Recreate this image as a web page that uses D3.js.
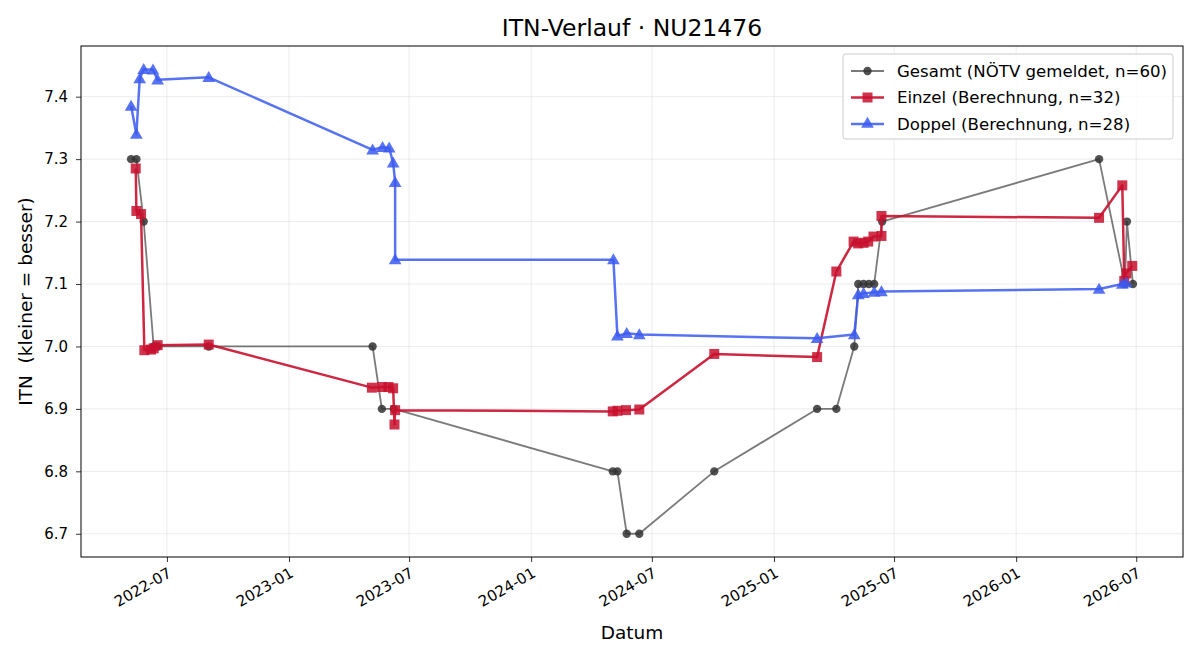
<!DOCTYPE html>
<html><head><meta charset="utf-8">
<script src="https://cdn.jsdelivr.net/npm/d3@7"></script>
<style>body{margin:0;background:#fff} text{font-family:"DejaVu Sans",sans-serif;fill:#000}</style>
</head><body><svg id="c" width="1200" height="660"></svg>
<script>
const gesamtDates = ["2022-05-08","2022-05-16","2022-05-27","2022-06-11","2022-06-17","2022-09-02","2023-05-07","2023-05-21","2023-06-08","2024-05-03","2024-05-10","2024-05-24","2024-06-12","2024-10-03","2025-03-07","2025-04-05","2025-05-02","2025-05-08","2025-05-16","2025-05-24","2025-06-01","2025-06-13","2026-05-06","2026-06-14","2026-06-17","2026-06-26"];
const gesamtValues = [7.3,7.3,7.2,7.0,7.0,7.0,7.0,6.9,6.9,6.8,6.8,6.7,6.7,6.8,6.9,6.9,7.0,7.1,7.1,7.1,7.1,7.2,7.3,7.1,7.2,7.1];

const einzelDates = ["2022-05-15","2022-05-16","2022-05-23","2022-05-28","2022-06-07","2022-06-11","2022-06-17","2022-09-02","2023-05-06","2023-05-21","2023-05-31","2023-06-07","2023-06-09","2023-06-10","2024-05-03","2024-05-10","2024-05-23","2024-06-12","2024-10-03","2025-03-07","2025-04-05","2025-05-01","2025-05-08","2025-05-16","2025-05-23","2025-05-31","2025-06-12","2025-06-12","2026-05-06","2026-06-10","2026-06-13","2026-06-16","2026-06-25"];
const einzelValues = [7.285,7.217,7.212,6.994,6.995,6.997,7.002,7.003,6.934,6.935,6.935,6.933,6.875,6.898,6.896,6.897,6.898,6.899,6.988,6.983,7.120,7.168,7.165,7.166,7.168,7.176,7.177,7.209,7.206,7.258,7.105,7.117,7.129];

const doppelDates = ["2022-05-08","2022-05-16","2022-05-21","2022-05-27","2022-06-10","2022-06-17","2022-09-02","2023-05-07","2023-05-22","2023-06-01","2023-06-07","2023-06-10","2023-06-10","2024-05-04","2024-05-10","2024-05-24","2024-06-12","2025-03-07","2025-05-02","2025-05-08","2025-05-16","2025-06-01","2025-06-12","2026-05-06","2026-06-10","2026-06-16"];
const doppelValues = [7.385,7.340,7.429,7.444,7.443,7.427,7.431,7.315,7.319,7.318,7.294,7.263,7.139,7.139,7.017,7.021,7.019,7.013,7.019,7.083,7.085,7.087,7.088,7.092,7.100,7.102];

const xTickLabels = ["2022-07","2023-01","2023-07","2024-01","2024-07","2025-01","2025-07","2026-01","2026-07"];
const yTickLabels = ["6.7","6.8","6.9","7.0","7.1","7.2","7.3","7.4"];
const seriesNames = ["Gesamt (NÖTV gemeldet, n=60)","Einzel (Berechnung, n=32)","Doppel (Berechnung, n=28)"];

const parse = d3.timeParse("%Y-%m-%d");
const parseM = d3.timeParse("%Y-%m");
const mk = (ds, vs) => ds.map((d,i)=>({x:parse(d), y:vs[i]}));
const series = [
  {name:seriesNames[0], data:mk(gesamtDates,gesamtValues), color:"#333", lw:1.8, lop:0.65, mop:0.85, marker:"circle", ms:55},
  {name:seriesNames[1], data:mk(einzelDates,einzelValues), color:"#c8102e", lw:2.5, lop:0.9, mop:0.85, marker:"square", ms:100},
  {name:seriesNames[2], data:mk(doppelDates,doppelValues), color:"#3b5bf0", lw:2.5, lop:0.85, mop:0.85, marker:"triangle", ms:70}
];

const W=1200,H=660, L=81, R=1183, T=46, B=557;
const svg = d3.select("#c");

const all = series.flatMap(s=>s.data);
const [x0,x1] = d3.extent(all, d=>d.x);
const xpad = (x1-x0)*0.05;
const x = d3.scaleTime().domain([new Date(+x0-xpad), new Date(+x1+xpad)]).range([L,R]);
const [y0,y1] = d3.extent(all, d=>d.y);
const ypad = (y1-y0)*0.05;
const y = d3.scaleLinear().domain([y0-ypad, y1+ypad]).range([B,T]);

const xt = xTickLabels.map(parseM);
const yt = yTickLabels.map(Number);

// grid
const g = svg.append("g");
g.selectAll(".gx").data(xt).join("line").attr("x1",d=>x(d)).attr("x2",d=>x(d)).attr("y1",T).attr("y2",B)
  .attr("stroke","#b0b0b0").attr("stroke-opacity",0.3).attr("stroke-width",0.8);
g.selectAll(".gy").data(yt).join("line").attr("y1",d=>y(d)).attr("y2",d=>y(d)).attr("x1",L).attr("x2",R)
  .attr("stroke","#b0b0b0").attr("stroke-opacity",0.3).attr("stroke-width",0.8);

// axes
const xAxis = d3.axisBottom(x).tickValues(xt).tickFormat(d3.timeFormat("%Y-%m")).tickSizeOuter(0).tickSize(5).tickPadding(3);
const gx = svg.append("g").attr("transform",`translate(0,${B})`).call(xAxis);
gx.select(".domain").remove();
gx.selectAll("line").attr("stroke","#000").attr("stroke-width",0.8);
gx.selectAll("text").attr("font-size",15).attr("text-anchor","end").attr("dy",null)
  .attr("y",0).attr("transform","translate(5,19) rotate(-30)");

const yAxis = d3.axisLeft(y).tickValues(yt).tickFormat(d3.format(".1f")).tickSizeOuter(0).tickSize(5).tickPadding(8);
const gy = svg.append("g").attr("transform",`translate(${L},0)`).call(yAxis);
gy.select(".domain").remove();
gy.selectAll("line").attr("stroke","#000").attr("stroke-width",0.8);
gy.selectAll("text").attr("font-size",15);

// series
const line = d3.line().x(d=>x(d.x)).y(d=>y(d.y));
const sym = {circle:d3.symbolCircle, square:d3.symbolSquare, triangle:d3.symbolTriangle};
series.forEach(s=>{
  svg.append("path").datum(s.data).attr("d",line).attr("fill","none").attr("stroke",s.color)
    .attr("stroke-width",s.lw).attr("stroke-opacity",s.lop).attr("stroke-linejoin","round");
  svg.append("g").selectAll("path").data(s.data).join("path")
    .attr("d", d3.symbol(sym[s.marker], s.ms))
    .attr("transform", d=>`translate(${x(d.x)},${y(d.y)+(s.marker==="triangle"?1:0)})`)
    .attr("fill",s.color).attr("fill-opacity",s.mop);
});

// frame
svg.append("rect").attr("x",L).attr("y",T).attr("width",R-L).attr("height",B-T)
  .attr("fill","none").attr("stroke","#000").attr("stroke-width",1);

// title & labels
svg.append("text").attr("x",(L+R)/2).attr("y",36).attr("text-anchor","middle").attr("font-size",23.5).text("ITN-Verlauf · NU21476");
svg.append("text").attr("x",(L+R)/2).attr("y",639).attr("text-anchor","middle").attr("font-size",18.5).text("Datum");
svg.append("text").attr("transform",`translate(32,${(T+B)/2}) rotate(-90)`).attr("text-anchor","middle")
  .attr("font-size",18.5).style("white-space","pre").text("ITN  (kleiner = besser)");

// legend
const lg = svg.append("g").attr("transform","translate(843,54)");
lg.append("rect").attr("width",330).attr("height",85).attr("rx",3).attr("fill","#fff").attr("fill-opacity",0.8)
  .attr("stroke","#ccc").attr("stroke-width",1);
series.forEach((s,i)=>{
  const yy = 17 + i*26.5;
  lg.append("line").attr("x1",8).attr("x2",41).attr("y1",yy).attr("y2",yy).attr("stroke",s.color)
    .attr("stroke-width",s.lw).attr("stroke-opacity",s.lop);
  lg.append("path").attr("d",d3.symbol(sym[s.marker], s.ms)()).attr("transform",`translate(24.5,${yy})`)
    .attr("fill",s.color).attr("fill-opacity",s.mop);
  lg.append("text").attr("x",54).attr("y",yy).attr("dy","0.35em").attr("font-size",16.6).text(s.name);
});
</script></body></html>
